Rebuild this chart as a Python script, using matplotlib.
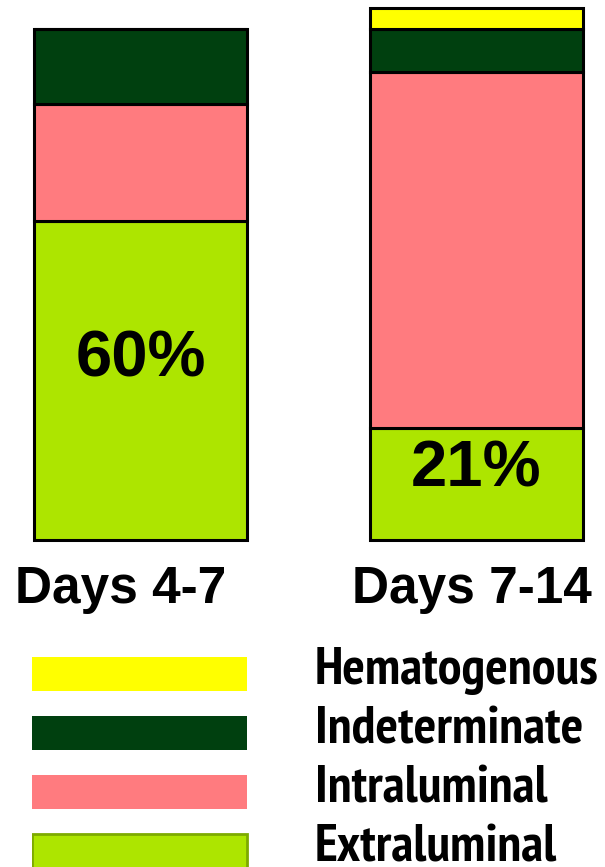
from matplotlib import pyplot as plt
from matplotlib import font_manager
from matplotlib.transforms import ScaledTranslation
import numpy as np

# share of catheter infections by route, per period (%)
periods = ['Days 4-7', 'Days 7-14']
extraluminal = [60, 21]
intraluminal = [22, 67]
indeterminate = [14, 8]
hematogenous = [0, 4]

routes = ['Hematogenous', 'Indeterminate', 'Intraluminal', 'Extraluminal']
route_colors = ['#FFFF00', '#00400F', '#FF7B7F', '#ADE500']


def pick_narrow_bold():
    # a condensed bold face for the legend, if one is installed
    best = None
    for f in font_manager.fontManager.ttflist:
        wt = f.weight if isinstance(f.weight, int) else (700 if 'bold' in str(f.weight) else 400)
        if wt < 600:
            continue
        if 'Narrow' in f.name:
            return f.fname
        if best is None and ('Condensed' in f.name or 'condensed' in str(f.stretch)):
            best = f.fname
    return best


fig = plt.figure(figsize=(6.05, 8.67), dpi=100)

# stacked bars
ax = fig.add_axes([34 / 605, 327 / 867, 549 / 605, 532 / 867])
x = np.arange(len(periods))
w = 0.634
stack = [extraluminal, intraluminal, indeterminate, hematogenous]
cols = ['#ADE500', '#FF7B7F', '#00400F', '#FFFF00']
bottom = np.zeros(len(periods))
for vals, c in zip(stack, cols):
    vals = np.array(vals, dtype=float)
    ax.bar(x, vals, w, bottom=bottom, color=c, edgecolor='black',
           linewidth=2.2, clip_on=False)
    bottom += vals

for xi, v in zip(x, extraluminal):
    ax.text(xi, v * 0.53 + 2.2, f'{v}%', ha='center', va='center',
            fontsize=47, fontweight='bold', family='Liberation Sans')

ax.set_xlim(-w / 2, 1 + w / 2)
ax.set_ylim(0, 100)
ax.set_xticks(x)
ax.set_xticklabels(periods, fontsize=37, fontweight='bold', family='Liberation Sans')
ax.tick_params(axis='x', length=0, pad=18)
for lab, dx in zip(ax.get_xticklabels(), [-20, -5]):
    lab.set_transform(lab.get_transform() + ScaledTranslation(dx / 100, 0, fig.dpi_scale_trans))
ax.set_yticks([])
for s in ax.spines.values():
    s.set_visible(False)

# legend drawn as its own little panel
lg = fig.add_axes([32 / 605, 0, 573 / 605, 227 / 867])
rows = np.arange(len(routes))
edges = ['none', 'none', 'none', '#7DAA00']
narrow = pick_narrow_bold()
if narrow:
    fp = font_manager.FontProperties(fname=narrow, size=35)
else:
    fp = font_manager.FontProperties(family='Liberation Sans', weight='bold', size=35)

texts = []
for r, name, c, e in zip(rows, routes, route_colors, edges):
    lg.barh(r, 0.375, height=0.58, left=0, color=c, edgecolor=e,
            linewidth=2 if e != 'none' else 0, clip_on=True)
    texts.append(lg.text(0.494, r + 0.17, name, ha='left', va='baseline',
                         fontproperties=fp.copy()))
lg.set_xlim(0, 1)
lg.set_ylim(3 + 16 / 59, -(674 - 640) / 59)
lg.axis('off')

# size the legend labels so the longest one ends near the right edge
rend = fig.canvas.get_renderer()
widest = max(t.get_window_extent(rend).width for t in texts)
scale = min(1.12, 284 / widest)
for t in texts:
    t.set_fontsize(35 * scale)

fig.savefig('out.png', dpi=100)
